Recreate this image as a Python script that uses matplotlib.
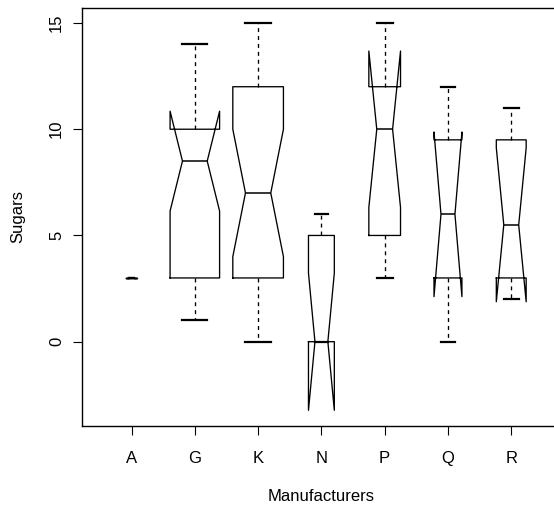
import matplotlib
matplotlib.use("Agg")
import matplotlib.pyplot as plt
import numpy

# sugars by cereal manufacturer
mfrs = ["A", "G", "K", "N", "P", "Q", "R"]
counts = [1, 22, 23, 6, 9, 7, 8]
whislo = [3, 1, 0, 0, 3, 0, 2]
q1 = [3, 3, 3, 0, 5, 3, 3]
med = [3, 8.5, 7, 0, 10, 6, 5.5]
q3 = [3, 10, 12, 5, 12, 9.5, 9.5]
whishi = [3, 14, 15, 6, 15, 12, 11]
cilo = [3, 6.15, 4.0, -3.23, 6.32, 2.12, 1.88]
cihi = [3, 10.85, 10.0, 3.23, 13.68, 9.87, 9.12]

plt.rcParams["font.family"] = ["Liberation Sans", "DejaVu Sans"]

stats = []
for i in range(len(mfrs)):
    stats.append({"label": mfrs[i], "whislo": whislo[i], "q1": q1[i], "med": med[i],
                  "q3": q3[i], "whishi": whishi[i], "cilo": cilo[i], "cihi": cihi[i],
                  "fliers": []})

# varwidth-style box widths
widths = 0.8 * numpy.sqrt(numpy.array(counts) / max(counts))
positions = numpy.arange(1, len(mfrs) + 1)

fig = plt.figure(figsize=(5.54, 5.08), dpi=100)
ax = fig.add_axes([82.2 / 554, (508 - 425.7) / 508, 478.4 / 554, 418.2 / 508])

ax.bxp(stats, positions=positions, widths=widths, shownotches=True,
       showfliers=False, manage_ticks=False,
       boxprops=dict(color="black", linewidth=0.95),
       whiskerprops=dict(color="black", linewidth=0.95, linestyle=(0, (3, 3))),
       capprops=dict(color="black", linewidth=1.6),
       medianprops=dict(color="black", linewidth=1.1))

ax.set_xlim(0.22, 7.78)
ax.set_ylim(-3.954, 15.729)
ax.set_xticks(positions)
ax.set_xticklabels(mfrs)
ax.set_yticks([0, 5, 10, 15])
ax.set_yticklabels(["0", "5", "10", "15"], rotation=90, va="center")

ax.tick_params(axis="both", direction="out", length=6.5, width=0.8, labelsize=12, color="black")
ax.tick_params(axis="x", pad=12)
ax.tick_params(axis="y", pad=6.5)
for s in ax.spines.values():
    s.set_linewidth(1.0)

ax.set_xlabel("Manufacturers", fontsize=12)
ax.set_ylabel("Sugars", fontsize=12)
ax.xaxis.label.set_va("center")
ax.yaxis.label.set_va("center")
ax.xaxis.set_label_coords(0.5, (425.7 - 496.7) / 418.2)
ax.yaxis.set_label_coords((17.5 - 82.2) / 478.4, 0.5)

fig.savefig("out.png", dpi=100)
